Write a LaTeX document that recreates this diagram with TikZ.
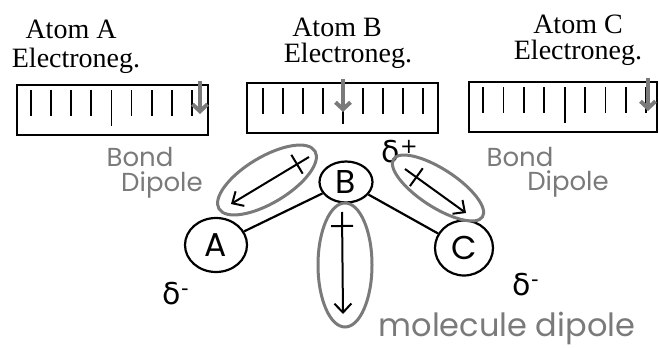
\documentclass[tikz,border=0pt]{standalone}
\usepackage{fontspec}
\setmainfont{Liberation Serif}
\newfontfamily\handfont{Poppins}
\newfontfamily\greekfont{DejaVu Sans}
\usetikzlibrary{arrows.meta,shapes.geometric,calc}
\definecolor{pen}{gray}{0.48}

\begin{document}
\begin{tikzpicture}[x=1pt,y=-1pt,
  heading/.style={font=\fontsize{28}{30}\selectfont},
  hand/.style={text=pen,font=\handfont\fontsize{26}{28}\selectfont},
  charge/.style={font=\greekfont\fontsize{30}{30}\selectfont},
  atom/.style={draw,ellipse,line width=2.2pt,inner sep=0pt,font=\handfont\fontsize{33}{33}\selectfont},
  dipole/.style={line width=2pt,-{Straight Barb[length=9pt,width=17pt]}},
  pointer/.style={draw=pen,line width=4pt,-{Straight Barb[length=7pt,width=15pt]}},
  halo/.style={draw=pen,line width=3pt}]
  \useasboundingbox (0,0) rectangle (659,348);

  % electronegativity scales
  \foreach \l/\t/\r/\s/\d/\p in {17/85/208/31/20.1/200, 247/83/438/263/20/343, 469/82/657/483/20.4/648}{
    \draw[line width=1.6pt] (\l,\t) rectangle (\r,\t+50);
    \foreach \i in {0,...,8}{
      \pgfmathsetmacro{\len}{ifthenelse(\i==4,36,26)}
      \draw[line width=1.8pt] (\s+\d*\i,\t+5) -- ++(0,\len);
    }
    \draw[pointer] (\p,\t-4) -- (\p,\t+29);
  }
  \node[heading] (tA) at (71,29) {Atom A};
  \node[heading] (eA) at (76,61) {Electroneg.};
  \node[heading] (tB) at (337,27) {Atom B};
  \node[heading] (eB) at (348,56) {Electroneg.};
  \node[heading] (tC) at (578,24) {Atom C};
  \node[heading] (eC) at (578,53) {Electroneg.};

  % molecule
  \node[atom,minimum width=62pt,minimum height=54pt] (A) at (216,245) {A};
  \node[atom,minimum width=53pt,minimum height=41pt] (B) at (346,182) {B};
  \node[atom,minimum width=58pt,minimum height=55pt] (C) at (464,248) {C};
  \draw[line width=2.2pt] (A) -- (B);
  \draw[line width=2.2pt] (B) -- (C);

  \node[charge] (dP) at (400,152) {δ\textsuperscript{+}};
  \node[charge] (dA) at (176,294) {δ\textsuperscript{-}};
  \node[charge] (dC) at (526,285) {δ\textsuperscript{-}};

  % dipoles
  \coordinate (ab1) at (309,157); \coordinate (ab2) at (231,204);
  \coordinate (bc1) at (405,169); \coordinate (bc2) at (466,213);
  \coordinate (m1) at (342,212);  \coordinate (m2) at (343,314);
  \foreach \u/\v in {ab1/ab2, bc1/bc2, m1/m2}{
    \draw[dipole] (\u) -- (\v);
    \draw[line width=2pt] ($(\u)!14pt!(\v)!11pt!90:(\u)$) -- ($(\u)!14pt!(\v)!11pt!-90:(\u)$);
  }
  \draw[halo,rotate around={31:(267,180)}] (267,180) ellipse [x radius=56, y radius=23];
  \draw[halo,rotate around={-33:(438,188)}] (438,188) ellipse [x radius=53, y radius=19];
  \draw[halo] (345,265) ellipse [x radius=27, y radius=62];

  \node[hand] (bd1) at (140,157) {Bond};
  \node[hand] (bd2) at (162,185) {Dipole};
  \node[hand] (bd3) at (520,157) {Bond};
  \node[hand] (bd4) at (568,184) {Dipole};
  \node[hand,font=\handfont\fontsize{32}{32}\selectfont,anchor=base] (md) at (507,336) {molecule dipole};
\end{tikzpicture}
\end{document}
